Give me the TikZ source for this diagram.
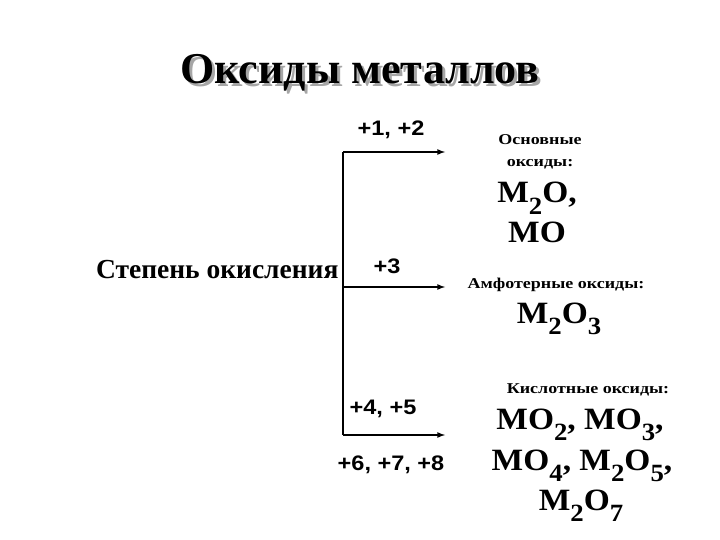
\documentclass[tikz,border=0pt]{standalone}
\usepackage{fontspec}
\setmainfont{Liberation Serif}
\newfontfamily\arialfont[FakeStretch=1.12]{Liberation Sans}
\newfontfamily\wideserif[FakeStretch=1.2]{Liberation Serif}
\newfontfamily\frmserif[FakeStretch=1.08]{Liberation Serif}
\newcommand\lowidx[1]{\raisebox{-0.36em}{\scalebox{0.8}{#1}}}
\begin{document}
\begin{tikzpicture}[x=1pt,y=-1pt,
            ttl/.style={font=\bfseries\fontsize{44}{48}\selectfont},
            lbl/.style={font=\wideserif\bfseries\fontsize{15}{19}\selectfont,anchor=base},
            frm/.style={font=\frmserif\bfseries\fontsize{31}{36}\selectfont,anchor=base},
            ox/.style={font=\arialfont\bfseries\fontsize{21}{24}\selectfont},
            ln/.style={line width=1.6pt},
            >=latex
        ]
    \useasboundingbox (0,0) rectangle (720,540);
    \node[ttl,text=black!35] (ttlshadow) at (363,76) {Оксиды металлов};
    \node[ttl] (title) at (360,73) {Оксиды металлов};

    \node[font=\bfseries\fontsize{27.5}{32}\selectfont,anchor=base east] (stepen) at (342,278) {Степень окисления};
    \coordinate (top) at (343,152);
    \coordinate (mid) at (343,287);
    \coordinate (bot) at (343,435);
    \coordinate (topend) at (445,152);
    \coordinate (midend) at (445,287);
    \coordinate (botend) at (445,435);
    \draw[ln] (top) -- (bot);
    \draw[ln,->] (top) -- (topend);
    \draw[ln,->] (mid) -- (midend);
    \draw[ln,->] (bot) -- (botend);

    \node[ox] (ox12) at (391,130) {+1, +2};
    \node[ox] (ox3) at (387,266) {+3};
    \node[ox] (ox45) at (383,409) {+4, +5};
    \node[ox] (ox678) at (391,465) {+6, +7, +8};

    \node[lbl] (osn1) at (540,145) {Основные};
    \node[lbl] (osn2) at (540,167) {оксиды:};
    \node[frm] (osnf1) at (537,203) {M\lowidx{2}O,};
    \node[frm] (osnf2) at (537,242) {MO};
    \node[lbl] (amf) at (556,288) {Амфотерные оксиды:};
    \node[frm] (amff) at (559,323) {M\lowidx{2}O\lowidx{3}};
    \node[lbl] (kisl) at (588,393) {Кислотные оксиды:};
    \node[frm] (kislf1) at (580,429) {MO\lowidx{2}, MO\lowidx{3},};
    \node[frm] (kislf2) at (582,470) {MO\lowidx{4}, M\lowidx{2}O\lowidx{5},};
    \node[frm] (kislf3) at (581,510) {M\lowidx{2}O\lowidx{7}};
\end{tikzpicture}
\end{document}
